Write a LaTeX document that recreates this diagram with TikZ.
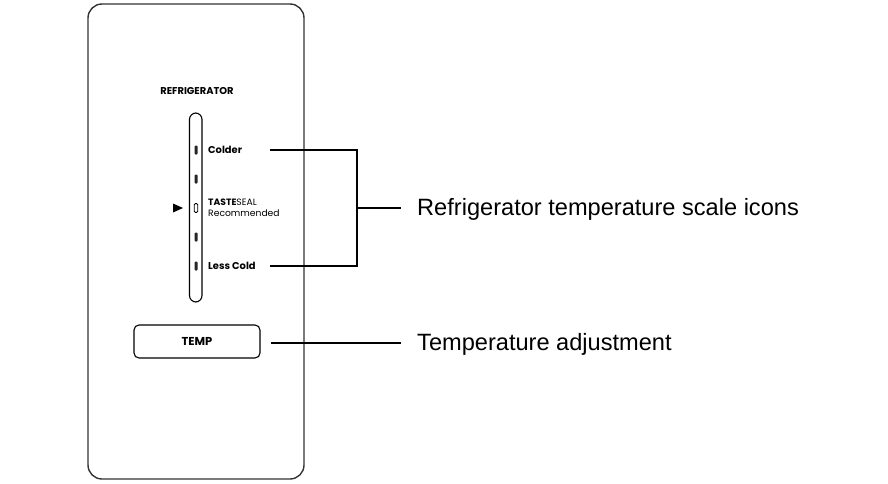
\documentclass[tikz,border=0pt]{standalone}
\usepackage{fontspec}
\setmainfont{Liberation Sans}
\newfontfamily\pop{Poppins}
\begin{document}
\begin{tikzpicture}[x=1pt,y=-1pt,
  panel/.style={draw=black!80, line width=1.4pt, rounded corners=14pt},
  lead/.style={draw=black, line width=1.1pt},
  small/.style={font=\pop\fontsize{9.2}{11.5}\selectfont, inner sep=0pt},
  smallb/.style={font=\pop\bfseries\fontsize{9.9}{11}\selectfont, inner sep=0pt},
  callout/.style={font=\fontsize{23.6}{28}\selectfont, inner sep=0pt, anchor=west},
  tick/.style={fill=black!85, rounded corners=1pt}]
\useasboundingbox (0,0) rectangle (888,484);
% panel
\draw[panel] (88,4) rectangle (304,479);
\node[smallb] (title) at (197,91) {REFRIGERATOR};
% scale tube
\draw[line width=1.1pt, rounded corners=6.5pt] (189.5,113) rectangle (202,302);
\foreach \yy/\nm in {150/t1,179/t2,237/t4,266/t5}{
  \fill[tick] (194.5,\yy-4.5) rectangle (197.5,\yy+4.5);
  \coordinate (\nm) at (196,\yy);
}
\draw[line width=0.8pt, rounded corners=1.2pt] (194.3,203.5) rectangle (197.7,212.5);
\coordinate (t3) at (196,208);
\fill[black] (173,203.5) -- (183,208) -- (173,212.5) -- cycle;
% labels
\node[smallb, anchor=west] (colder) at (208,150) {Colder};
\node[small, anchor=west, align=left] (taste) at (208,208) {\textbf{TASTE}SEAL\\Recommended};
\node[smallb, anchor=west] (less) at (208,266) {Less Cold};
% temp button
\node[draw, line width=1.1pt, rounded corners=5pt, minimum width=126pt, minimum height=33pt, inner sep=0pt, font=\pop\bfseries\fontsize{11.5}{13}\selectfont] (temp) at (197,341.5) {TEMP};
% leaders
\coordinate (c1) at (270,150);
\coordinate (c2) at (357,150);
\coordinate (c3) at (357,266);
\coordinate (c4) at (270,266);
\coordinate (cm) at (357,208);
\coordinate (ce) at (401,208);
\draw[lead] (c1) -- (c2) -- (c3) -- (c4);
\draw[lead] (cm) -- (ce);
\coordinate (d1) at (271,343);
\coordinate (d2) at (401,343);
\draw[lead] (d1) -- (d2);
\node[callout] (lab1) at (417,209.5) {Refrigerator temperature scale icons};
\node[callout] (lab2) at (417,344.5) {Temperature adjustment};
\end{tikzpicture}
\end{document}
